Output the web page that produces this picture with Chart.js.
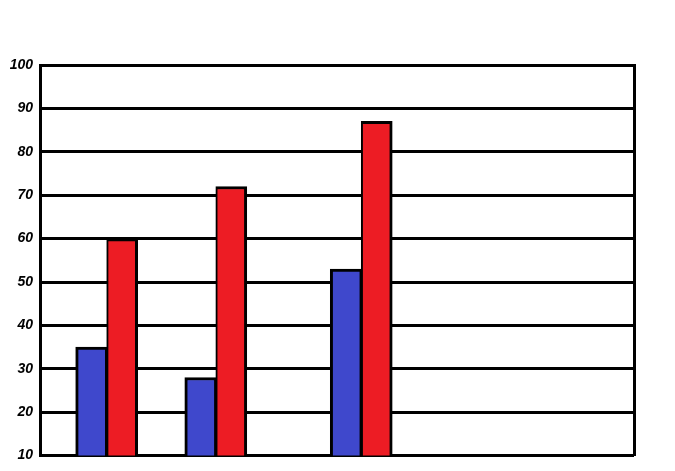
<!DOCTYPE html>
<html>
<head>
<meta charset="utf-8">
<script src="https://cdn.jsdelivr.net/npm/chart.js@4"></script>
<style>
  html, body { margin: 0; padding: 0; background: #fff; }
  #wrap { width: 675px; height: 471px; }
</style>
</head>
<body>
<div id="wrap"><canvas id="chart" width="675" height="471"></canvas></div>
<script>
// valores
const categories = ['A', 'B', 'C'];
const blueValues = [35, 28, 53];
const redValues = [60, 72, 87];
const yTicks = [10, 20, 30, 40, 50, 60, 70, 80, 90, 100];

// los grupos no están repartidos de forma regular: se colocan en huecos de un eje oculto
const slotCount = 49;
const groupSlot = [5, 14, 26];

const labels = [];
const blueData = [];
const redData = [];
for (let i = 0; i < slotCount; i++) {
    const g = groupSlot.indexOf(i);
    labels.push(g >= 0 ? categories[g] : '');
    blueData.push(g >= 0 ? blueValues[g] : null);
    redData.push(g >= 0 ? redValues[g] : null);
}

new Chart(document.getElementById('chart'), {
    type: 'bar',
    data: {
        labels: labels,
        datasets: [{
            label: 'Azul',
            data: blueData,
            backgroundColor: '#3f48cc',
            borderColor: '#000',
            borderWidth: { top: 3, left: 3, right: 2, bottom: 0 },
            borderSkipped: false,
            barThickness: 31
        }, {
            label: 'Rojo',
            data: redData,
            backgroundColor: '#ed1c24',
            borderColor: '#000',
            borderWidth: { top: 3, left: 2, right: 3, bottom: 0 },
            borderSkipped: false,
            barThickness: 31
        }]
    },
    options: {
        responsive: false,
        animation: false,
        layout: { padding: { left: 0, top: 65, right: 41, bottom: 14 } },
        plugins: { legend: { display: false }, tooltip: { enabled: false } },
        scales: {
            x: { display: false },
            y: {
                min: yTicks[0],
                max: yTicks[yTicks.length - 1],
                afterBuildTicks: (scale) => { scale.ticks = yTicks.map(v => ({ value: v })); },
                afterFit: (scale) => { scale.width = 40; },
                grid: { color: '#000', lineWidth: 3, drawTicks: false },
                border: { color: '#000', width: 3 },
                ticks: {
                    color: '#000',
                    padding: 7,
                    font: { family: 'Liberation Sans', size: 14, weight: 'bold', style: 'italic' }
                }
            },
            yRight: {
                position: 'right',
                min: yTicks[0],
                max: yTicks[yTicks.length - 1],
                afterFit: (scale) => { scale.width = 0; },
                grid: { drawOnChartArea: false, drawTicks: false },
                border: { color: '#000', width: 3 },
                ticks: { display: false }
            }
        }
    }
});
</script>
</body>
</html>
